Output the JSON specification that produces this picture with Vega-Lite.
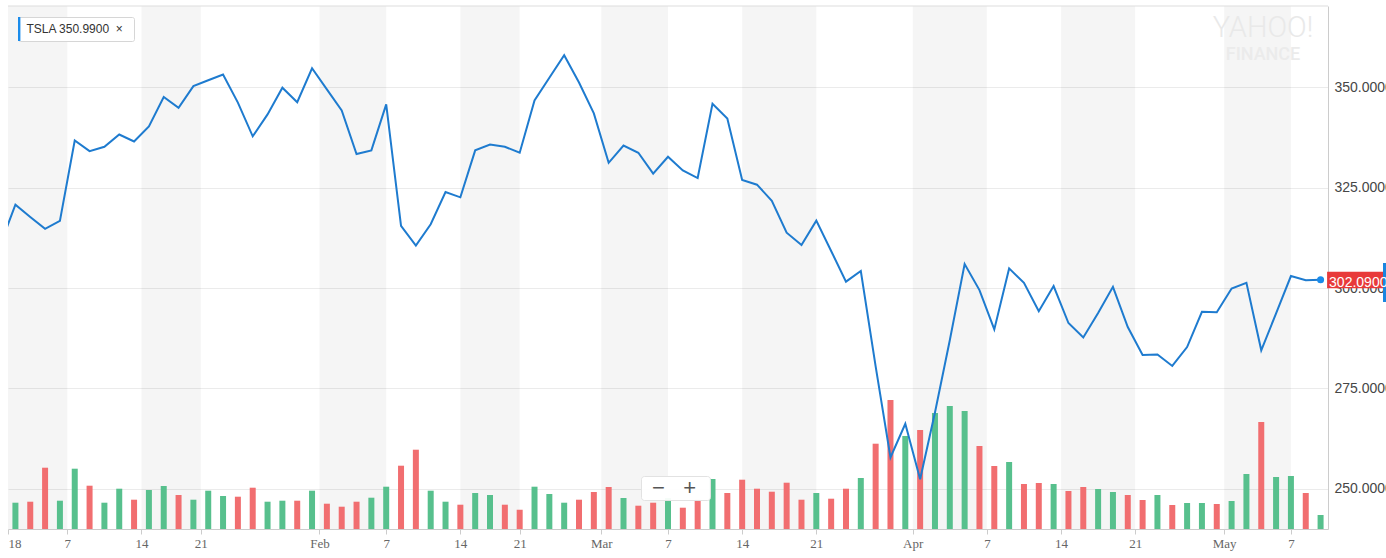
{
  "$schema": "https://vega.github.io/schema/vega-lite/v6.json",
  "width": 1320,
  "height": 523,
  "autosize": {"type": "none"},
  "padding": {"left": 8, "top": 6, "right": 58, "bottom": 29},
  "title": {
    "text": "YAHOO!",
    "subtitle": "FINANCE",
    "anchor": "end",
    "align": "center",
    "frame": "group",
    "dx": -65,
    "offset": -58,
    "font": "Roboto",
    "fontSize": 29,
    "fontWeight": 300,
    "color": "#E9E9E9",
    "subtitleFont": "Roboto",
    "subtitleFontSize": 18,
    "subtitleFontWeight": 500,
    "subtitleColor": "#EBEBEB",
    "subtitlePadding": 3
  },
  "datasets": {
    "tsla": [
      {"date": "2017-12-29", "close": 311.0, "volume": 4.5},
      {"date": "2018-01-02", "close": 320.75, "volume": 5.26},
      {"date": "2018-01-03", "close": 317.7, "volume": 5.46},
      {"date": "2018-01-04", "close": 314.75, "volume": 12.26},
      {"date": "2018-01-05", "close": 316.75, "volume": 5.66},
      {"date": "2018-01-08", "close": 336.75, "volume": 12.06},
      {"date": "2018-01-09", "close": 334.1, "volume": 8.66},
      {"date": "2018-01-10", "close": 335.2, "volume": 5.26},
      {"date": "2018-01-11", "close": 338.25, "volume": 8.06},
      {"date": "2018-01-12", "close": 336.5, "volume": 5.86},
      {"date": "2018-01-16", "close": 340.25, "volume": 7.8},
      {"date": "2018-01-17", "close": 347.6, "volume": 8.6},
      {"date": "2018-01-18", "close": 344.9, "volume": 6.8},
      {"date": "2018-01-19", "close": 350.3, "volume": 5.86},
      {"date": "2018-01-22", "close": 351.75, "volume": 7.66},
      {"date": "2018-01-23", "close": 353.2, "volume": 6.6},
      {"date": "2018-01-24", "close": 346.2, "volume": 6.46},
      {"date": "2018-01-25", "close": 337.8, "volume": 8.26},
      {"date": "2018-01-26", "close": 343.25, "volume": 5.46},
      {"date": "2018-01-29", "close": 349.9, "volume": 5.66},
      {"date": "2018-01-30", "close": 346.3, "volume": 5.66},
      {"date": "2018-01-31", "close": 354.75, "volume": 7.66},
      {"date": "2018-02-01", "close": 349.5, "volume": 5.06},
      {"date": "2018-02-02", "close": 344.25, "volume": 4.46},
      {"date": "2018-02-05", "close": 333.4, "volume": 5.46},
      {"date": "2018-02-06", "close": 334.3, "volume": 6.26},
      {"date": "2018-02-07", "close": 345.75, "volume": 8.46},
      {"date": "2018-02-08", "close": 315.5, "volume": 12.66},
      {"date": "2018-02-09", "close": 310.6, "volume": 15.86},
      {"date": "2018-02-12", "close": 315.9, "volume": 7.66},
      {"date": "2018-02-13", "close": 323.9, "volume": 5.46},
      {"date": "2018-02-14", "close": 322.6, "volume": 4.86},
      {"date": "2018-02-15", "close": 334.3, "volume": 7.2},
      {"date": "2018-02-16", "close": 335.75, "volume": 6.8},
      {"date": "2018-02-20", "close": 335.2, "volume": 4.86},
      {"date": "2018-02-21", "close": 333.7, "volume": 3.86},
      {"date": "2018-02-22", "close": 346.75, "volume": 8.46},
      {"date": "2018-02-23", "close": 352.4, "volume": 7.0},
      {"date": "2018-02-26", "close": 358.0, "volume": 5.26},
      {"date": "2018-02-27", "close": 351.2, "volume": 5.86},
      {"date": "2018-02-28", "close": 343.5, "volume": 7.4},
      {"date": "2018-03-01", "close": 331.2, "volume": 8.4},
      {"date": "2018-03-02", "close": 335.5, "volume": 6.2},
      {"date": "2018-03-05", "close": 333.7, "volume": 4.66},
      {"date": "2018-03-06", "close": 328.5, "volume": 5.26},
      {"date": "2018-03-07", "close": 332.7, "volume": 6.2},
      {"date": "2018-03-08", "close": 329.3, "volume": 4.26},
      {"date": "2018-03-09", "close": 327.4, "volume": 5.86},
      {"date": "2018-03-12", "close": 345.9, "volume": 10.0},
      {"date": "2018-03-13", "close": 342.2, "volume": 7.2},
      {"date": "2018-03-14", "close": 326.9, "volume": 9.86},
      {"date": "2018-03-15", "close": 325.75, "volume": 8.06},
      {"date": "2018-03-16", "close": 321.75, "volume": 7.46},
      {"date": "2018-03-19", "close": 313.8, "volume": 9.26},
      {"date": "2018-03-20", "close": 310.75, "volume": 5.86},
      {"date": "2018-03-21", "close": 316.8, "volume": 7.2},
      {"date": "2018-03-22", "close": 309.25, "volume": 6.06},
      {"date": "2018-03-23", "close": 301.6, "volume": 8.06},
      {"date": "2018-03-26", "close": 304.25, "volume": 10.2},
      {"date": "2018-03-27", "close": 280.5, "volume": 17.06},
      {"date": "2018-03-28", "close": 257.8, "volume": 25.8},
      {"date": "2018-03-29", "close": 266.2, "volume": 18.6},
      {"date": "2018-04-02", "close": 252.4, "volume": 19.8},
      {"date": "2018-04-03", "close": 269.0, "volume": 23.2},
      {"date": "2018-04-04", "close": 287.0, "volume": 24.6},
      {"date": "2018-04-05", "close": 306.0, "volume": 23.6},
      {"date": "2018-04-06", "close": 299.5, "volume": 16.6},
      {"date": "2018-04-09", "close": 289.7, "volume": 12.6},
      {"date": "2018-04-10", "close": 304.9, "volume": 13.4},
      {"date": "2018-04-11", "close": 301.3, "volume": 9.0},
      {"date": "2018-04-12", "close": 294.25, "volume": 9.2},
      {"date": "2018-04-13", "close": 300.5, "volume": 9.0},
      {"date": "2018-04-16", "close": 291.3, "volume": 7.6},
      {"date": "2018-04-17", "close": 287.7, "volume": 8.4},
      {"date": "2018-04-18", "close": 293.8, "volume": 8.0},
      {"date": "2018-04-19", "close": 300.3, "volume": 7.4},
      {"date": "2018-04-20", "close": 290.3, "volume": 6.8},
      {"date": "2018-04-23", "close": 283.35, "volume": 5.8},
      {"date": "2018-04-24", "close": 283.45, "volume": 6.8},
      {"date": "2018-04-25", "close": 280.6, "volume": 4.8},
      {"date": "2018-04-26", "close": 285.3, "volume": 5.2},
      {"date": "2018-04-27", "close": 294.1, "volume": 5.2},
      {"date": "2018-04-30", "close": 294.0, "volume": 5.0},
      {"date": "2018-05-01", "close": 299.9, "volume": 5.6},
      {"date": "2018-05-02", "close": 301.3, "volume": 11.0},
      {"date": "2018-05-03", "close": 284.5, "volume": 21.4},
      {"date": "2018-05-04", "close": 293.7, "volume": 10.4},
      {"date": "2018-05-07", "close": 303.0, "volume": 10.6},
      {"date": "2018-05-08", "close": 301.97, "volume": 7.2},
      {"date": "2018-05-09", "close": 302.09, "volume": 2.8}
    ],
    "bands": [
      {"t": 1.5, "t_end": 5.5},
      {"t": 10.5, "t_end": 14.5},
      {"t": 22.5, "t_end": 27},
      {"t": 32, "t_end": 36},
      {"t": 41.5, "t_end": 46},
      {"t": 51, "t_end": 56},
      {"t": 62.5, "t_end": 67.5},
      {"t": 72.5, "t_end": 77.5},
      {"t": 83.5, "t_end": 88}
    ]
  },
  "layer": [
    {
      "data": {"name": "bands"},
      "mark": {"type": "rect", "color": "#000000", "opacity": 0.04},
      "encoding": {
        "x": {"field": "t", "type": "quantitative", "title": null,
              "scale": {"domain": [1.5, 90.5], "nice": false, "zero": false, "padding": 0}},
        "x2": {"field": "t_end"}
      }
    },
    {
      "data": {"name": "tsla"},
      "transform": [
        {"window": [{"op": "row_number", "as": "t"}, {"op": "lag", "field": "close", "as": "prev"}],
         "sort": [{"field": "date"}]}
      ],
      "mark": {"type": "bar", "size": 6, "clip": true},
      "encoding": {
        "x": {
          "field": "t", "type": "quantitative", "title": null,
          "scale": {"domain": [1.5, 90.5], "nice": false, "zero": false, "padding": 0},
          "axis": {
            "orient": "bottom",
            "values": [1.5, 5.5, 10.5, 14.5, 22.5, 27, 32, 36, 41.5, 46, 51, 56, 62.5, 67.5, 72.5, 77.5, 83.5, 88],
            "labelExpr": "['18','7','14','21','Feb','7','14','21','Mar','7','14','21','Apr','7','14','21','May','7'][indexof([1.5, 5.5, 10.5, 14.5, 22.5, 27, 32, 36, 41.5, 46, 51, 56, 62.5, 67.5, 72.5, 77.5, 83.5, 88], datum.value)]",
            "labelFont": "Liberation Serif",
            "labelFontSize": 13,
            "labelColor": "#666666",
            "labelFlush": true,
            "labelOverlap": false,
            "labelPadding": 3,
            "domainColor": "#CCCCCC",
            "tickColor": "#CCCCCC",
            "tickSize": 5,
            "grid": false,
            "title": null
          }
        },
        "y": {"field": "volume", "type": "quantitative", "axis": null,
              "scale": {"domain": [0, 104.6], "nice": false}},
        "color": {
          "condition": {"test": "datum.close >= datum.prev", "value": "#57C08D"},
          "value": "#F16E70"
        }
      }
    },
    {
      "data": {"name": "tsla"},
      "transform": [
        {"window": [{"op": "row_number", "as": "t"}], "sort": [{"field": "date"}]}
      ],
      "layer": [
        {
          "mark": {"type": "line", "color": "#1E7BCF", "strokeWidth": 2, "clip": true},
          "encoding": {
            "x": {"field": "t", "type": "quantitative", "title": null,
                  "scale": {"domain": [1.5, 90.5], "nice": false, "zero": false, "padding": 0}},
            "y": {
              "field": "close", "type": "quantitative", "title": null,
              "scale": {"domain": [240, 370.25], "nice": false, "zero": false},
              "axis": {
                "orient": "right",
                "values": [250, 275, 300, 325, 350],
                "format": ".4f",
                "labelFont": "Liberation Sans",
                "labelFontSize": 14,
                "labelColor": "#464646",
                "labelPadding": 6,
                "ticks": false,
                "tickSize": 0,
                "domainColor": "#CCCCCC",
                "grid": true,
                "gridColor": "#EBEBEB",
                "title": null
              }
            }
          }
        },
        {
          "transform": [{"filter": {"field": "date", "equal": "2018-05-09"}}],
          "layer": [
            {
              "mark": {"type": "rule", "color": "#DDDDDD", "strokeWidth": 1, "clip": false},
              "encoding": {
                "y": {"datum": 370.25, "scale": {"domain": [240, 370.25], "nice": false, "zero": false}}
              }
            },
            {
              "mark": {"type": "point", "filled": true, "opacity": 1, "size": 50, "clip": false},
              "encoding": {
                "x": {"field": "t", "type": "quantitative", "title": null,
                      "scale": {"domain": [1.5, 90.5], "nice": false, "zero": false, "padding": 0}},
                "y": {"field": "close", "type": "quantitative", "title": null,
                      "scale": {"domain": [240, 370.25], "nice": false, "zero": false}},
                "color": {
                  "datum": "TSLA",
                  "scale": {"range": ["#1A8BEA"]},
                  "legend": {
                    "orient": "none",
                    "legendX": 10,
                    "legendY": 11,
                    "title": ".",
                    "titleOrient": "right",
                    "titleOpacity": 0,
                    "titleFontSize": 4,
                    "titlePadding": 9,
                    "zindex": 1,
                    "symbolType": "M-1,-1H-0.8V1H-1Z",
                    "symbolSize": 576,
                    "symbolStrokeWidth": 0,
                    "labelOffset": -15.6,
                    "labelExpr": "'TSLA 350.9900\u00a0\u00a0\u00d7'",
                    "labelFont": "Liberation Sans",
                    "labelFontSize": 12,
                    "labelColor": "#333333",
                    "fillColor": "#FFFFFF",
                    "strokeColor": "#D6D6D6",
                    "padding": 0,
                    "cornerRadius": 2
                  }
                },
                "shape": {
                  "datum": "zoom",
                  "scale": {"range": ["circle"]},
                  "legend": {
                    "orient": "none",
                    "legendX": 633,
                    "legendY": 470,
                    "title": ".",
                    "titleOrient": "right",
                    "titleOpacity": 0,
                    "titleFontSize": 4,
                    "titlePadding": 11,
                    "zindex": 1,
                    "symbolOpacity": 0,
                    "symbolSize": 100,
                    "labelOffset": -12,
                    "labelExpr": "'\u2212\u00a0\u00a0\u00a0+'",
                    "labelFont": "Liberation Sans",
                    "labelFontSize": 22,
                    "labelColor": "#555555",
                    "fillColor": "rgba(255,255,255,0.94)",
                    "strokeColor": "#E2E2E2",
                    "padding": 1,
                    "cornerRadius": 3
                  }
                }
              }
            },
            {
              "mark": {"type": "point", "shape": "M0.065,-0.08H0.75V0.086H0.065Z", "size": 40000,
                       "filled": true, "opacity": 1, "color": "#E83A3A", "clip": false},
              "encoding": {
                "x": {"field": "t", "type": "quantitative", "title": null,
                      "scale": {"domain": [1.5, 90.5], "nice": false, "zero": false, "padding": 0}},
                "y": {"field": "close", "type": "quantitative", "title": null,
                      "scale": {"domain": [240, 370.25], "nice": false, "zero": false}}
              }
            },
            {
              "mark": {"type": "point", "shape": "M0.624,-0.167H0.75V0.223H0.624Z", "size": 40000,
                       "filled": true, "opacity": 1, "color": "#1A86E0", "clip": false},
              "encoding": {
                "x": {"field": "t", "type": "quantitative", "title": null,
                      "scale": {"domain": [1.5, 90.5], "nice": false, "zero": false, "padding": 0}},
                "y": {"field": "close", "type": "quantitative", "title": null,
                      "scale": {"domain": [240, 370.25], "nice": false, "zero": false}}
              }
            },
            {
              "mark": {"type": "text", "align": "left", "baseline": "alphabetic", "dx": 8.5, "dy": 7.6,
                       "color": "#FFFFFF", "font": "Liberation Sans", "fontSize": 14, "clip": false},
              "encoding": {
                "x": {"field": "t", "type": "quantitative", "title": null,
                      "scale": {"domain": [1.5, 90.5], "nice": false, "zero": false, "padding": 0}},
                "y": {"field": "close", "type": "quantitative", "title": null,
                      "scale": {"domain": [240, 370.25], "nice": false, "zero": false}},
                "text": {"field": "close", "format": ".4f"}
              }
            }
          ]
        }
      ]
    }
  ],
  "resolve": {"scale": {"y": "independent"}},
  "config": {
    "view": {"stroke": null},
    "background": "#FFFFFF"
  }
}
